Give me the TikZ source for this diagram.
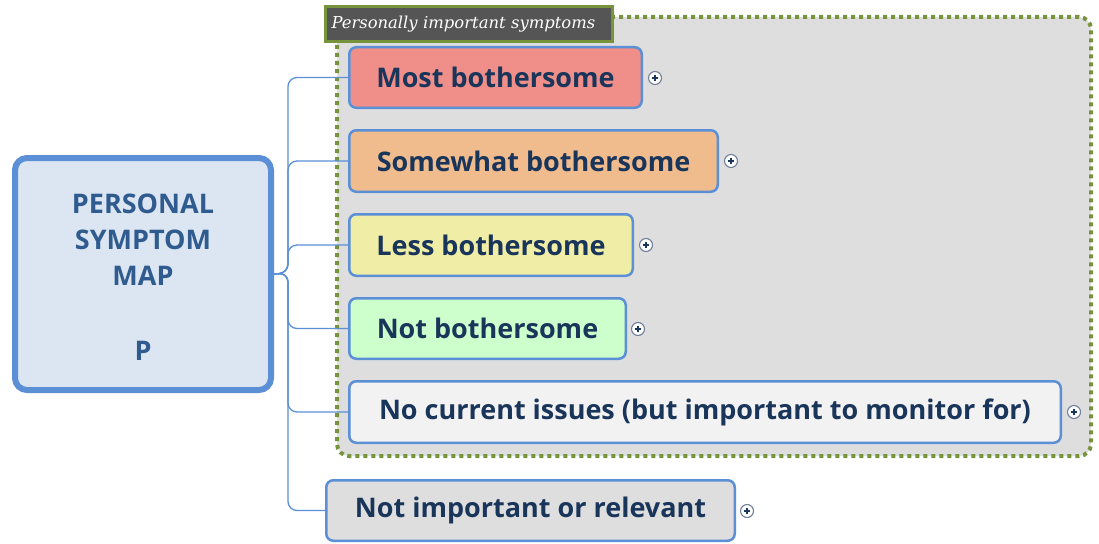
\documentclass[tikz,border=0pt]{standalone}
\usepackage{fontspec}
\setmainfont{Open Sans}
\newfontfamily\labfont{DejaVu Serif}
\definecolor{edgeblue}{HTML}{5B8FD6}
\definecolor{centerfill}{HTML}{DCE6F2}
\definecolor{centertext}{HTML}{2F5B8F}
\definecolor{navy}{HTML}{1A355A}
\definecolor{grpfill}{HTML}{DEDEDE}
\definecolor{grpgreen}{HTML}{77933C}
\definecolor{labfill}{HTML}{555555}
\definecolor{cred}{HTML}{F08F8A}
\definecolor{corange}{HTML}{F0BC8E}
\definecolor{cyellow}{HTML}{F0EDA6}
\definecolor{cgreen}{HTML}{CCFFCC}
\definecolor{cwhite}{HTML}{F2F2F2}
\definecolor{cgray}{HTML}{DEDEDE}
\definecolor{plusedge}{HTML}{6F7F99}
\tikzset{
  child/.style={draw=edgeblue, line width=2.5pt, rounded corners=7pt, inner sep=0pt,
    font=\fontsize{27}{30}\selectfont\bfseries, text=navy},
  conn/.style={draw=edgeblue, line width=1.3pt, rounded corners=9pt},
  plus/.style={circle, draw=plusedge, fill=white, line width=1.1pt, minimum size=13pt, inner sep=0pt,
    path picture={\draw[navy, line width=1.1pt] (path picture bounding box.center) +(-3.3pt,0) -- +(3.3pt,0)
      (path picture bounding box.center) +(0,-3.3pt) -- +(0,3.3pt);}},
}
\begin{document}
\begin{tikzpicture}[x=1pt,y=-1pt]
\useasboundingbox (0,0) rectangle (1099,543);
% group box
\draw[grpgreen, fill=grpfill, line width=4pt, dash pattern=on 4pt off 4pt, rounded corners=12pt]
  (337,17) rectangle (1091,456);
\node[draw=grpgreen, fill=labfill, line width=3pt, minimum width=287pt, minimum height=35pt, inner sep=0pt,
  text=white, font=\labfont\itshape\fontsize{16.4}{18}\selectfont, anchor=center, align=left,
  text width=275pt] (lab) at (469,24) {Personally important symptoms};
% central node
\node[draw=edgeblue, fill=centerfill, line width=6pt, rounded corners=12pt, minimum width=256pt,
  minimum height=232pt, inner sep=0pt, text=centertext, align=center,
  font=\fontsize{27}{36}\selectfont\bfseries] (center) at (143,274)
  {\rule{0pt}{26pt}PERSONAL\\SYMPTOM\\MAP\\[39pt]P};
% children
\node[child, fill=cred, minimum width=292.5pt, minimum height=60.5pt] (c1) at (495.5,77.5) {Most bothersome};
\node[child, fill=corange, minimum width=368.5pt, minimum height=61.5pt] (c2) at (533.5,161) {Somewhat bothersome};
\node[child, fill=cyellow, minimum width=283.5pt, minimum height=61.5pt] (c3) at (491,245) {Less bothersome};
\node[child, fill=cgreen, minimum width=276.5pt, minimum height=60.5pt] (c4) at (487.5,328.5) {Not bothersome};
\node[child, fill=cwhite, minimum width=711.5pt, minimum height=61.5pt] (c5) at (705,412) {No current issues (but important to monitor for)};
\node[child, fill=cgray, minimum width=408.5pt, minimum height=60.5pt] (c6) at (530.5,510.5) {Not important or relevant};
% connectors
\coordinate (tr) at (288,273);
\foreach \c in {c1,c2,c3,c4,c5,c6}{
  \draw[conn] (center.east) -- (tr) |- (\c.west);
}
% plus markers
\node[plus] (p1) at (655,78) {};
\node[plus] (p2) at (731,161) {};
\node[plus] (p3) at (646,245) {};
\node[plus] (p4) at (638,329) {};
\node[plus] (p5) at (1074,412) {};
\node[plus] (p6) at (747,511) {};
\end{tikzpicture}
\end{document}
